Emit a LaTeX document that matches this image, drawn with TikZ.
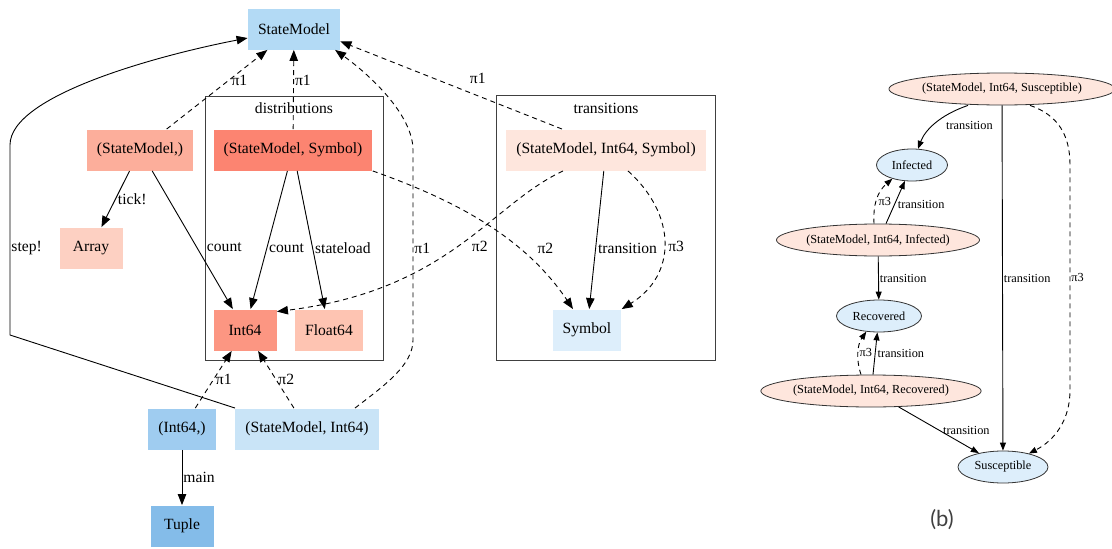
\documentclass[tikz,border=0pt]{standalone}
\usepackage{fontspec}
\setmainfont{Liberation Serif}
\newfontfamily\capfont{Lato}
\usepackage{tikz}
\usetikzlibrary{arrows.meta,shapes.geometric}
\definecolor{cSM}{HTML}{B3DAF5}
\definecolor{cSMc}{HTML}{FCAE9B}
\definecolor{cSMS}{HTML}{FC8471}
\definecolor{cArr}{HTML}{FDD0C2}
\definecolor{cInt}{HTML}{FC9682}
\definecolor{cFlt}{HTML}{FEC4B2}
\definecolor{cIntc}{HTML}{9FCCF0}
\definecolor{cSMI}{HTML}{C9E4F7}
\definecolor{cTup}{HTML}{84BCE9}
\definecolor{cSMIS}{HTML}{FEE6DD}
\definecolor{cSym}{HTML}{DDEEFB}

\begin{document}
\begin{tikzpicture}[x=1pt, y=-1pt, line width=0.9pt,
  main/.style={rectangle, minimum width=63pt, minimum height=41pt, inner xsep=10pt, font=\fontsize{15.6}{18}\selectfont},
  oval/.style={ellipse, draw=black!80, line width=0.8pt, minimum height=32pt, inner sep=0pt, font=\fontsize{12.3}{14}\selectfont},
  lbl/.style={font=\fontsize{15.6}{18}\selectfont, inner sep=2pt},
  slbl/.style={font=\fontsize{12.3}{14}\selectfont, inner sep=1pt},
  cluster/.style={draw=black!75, line width=1pt},
  dsh/.style={dash pattern=on 5pt off 4pt},
  ar/.style={-{Triangle[length=11pt,width=8.5pt]}},
  sar/.style={-{Triangle[length=8pt,width=6pt]}}]
\useasboundingbox (0,0) rectangle (1112,549);

% clusters
\draw[cluster] (205,96) rectangle (383,360);
\draw[cluster] (496,95) rectangle (715,360);
\node[lbl] (dist) at (294,108) {distributions};
\node[lbl] (trans) at (606,108) {transitions};

% (a) type graph
\node[main, fill=cSM] (sm) at (294,29) {StateModel};
\node[main, fill=cSMc] (smc) at (140,150) {(StateModel,)};
\node[main, fill=cSMS] (sms) at (293,150) {(StateModel, Symbol)};
\node[main, fill=cArr] (arr) at (91,248) {Array};
\node[main, fill=cInt] (int) at (245,330) {Int64};
\node[main, fill=cFlt] (flt) at (329,330) {Float64};
\node[main, fill=cIntc] (intc) at (182,429) {(Int64,)};
\node[main, fill=cSMI] (smi) at (307,429) {(StateModel, Int64)};
\node[main, fill=cTup] (tup) at (182,526) {Tuple};
\node[main, fill=cSMIS] (smis) at (606,150) {(StateModel, Int64, Symbol)};
\node[main, fill=cSym] (sym) at (587,330) {Symbol};

\draw[ar, dsh] (smc) -- (sm) node[lbl, pos=.62, right]{π1};
\draw[ar, dsh] (sms) -- (sm) node[lbl, pos=.62, right=-1pt]{π1};
\draw[ar, dsh] ([xshift=-44pt]smis.north) -- (sm.-15) node[lbl, pos=.38, above=10pt]{π1};
\draw[ar, dsh] ([xshift=48pt]smi.north) .. controls (385,385) and (413,365) .. (413,340)
  -- (413,150) node[lbl, pos=.48, right=-1pt]{π1} .. controls (413,115) and (370,75) .. (sm.-27);
\draw[ar] (smi.north west) -- (10,335) -- (10,145) node[lbl, pos=.46, right=-1pt]{step!}
  .. controls (10,95) and (160,55) .. (sm.191);
\draw[ar] (smc) -- (arr) node[lbl, midway, right]{tick!};
\draw[ar] (smc) -- (int) node[lbl, pos=.55, right=8pt]{count};
\draw[ar] (sms) -- (int) node[lbl, pos=.56, right=0pt]{count};
\draw[ar] (sms) -- (flt) node[lbl, pos=.56, right]{stateload};
\draw[ar, dsh] (sms.south east) .. controls (440,195) and (520,230) .. (sym) node[lbl, pos=.7, right=16pt]{π2};
\draw[ar, dsh] ([xshift=-43pt]smis.south) .. controls (490,205) and (450,290) .. (int.30) node[lbl, pos=.5, right=12pt]{π2};
\draw[ar] (smis) -- (sym) node[lbl, pos=.56, right=0pt]{transition};
\draw[ar, dsh] ([xshift=22pt]smis.south) .. controls (677,215) and (677,275) .. (sym.north east) node[lbl, pos=.52, right=2pt]{π3};
\draw[ar, dsh] (intc) -- (int) node[lbl, midway, right=0pt]{π1};
\draw[ar, dsh] (smi) -- (int) node[lbl, midway, right=0pt]{π2};
\draw[ar] (intc) -- (tup) node[lbl, midway, right=-1pt]{main};

% (b) state graph
\node[oval, fill=cSMIS, minimum width=220pt] (es) at (1002,89) {(StateModel, Int64, Susceptible)};
\node[oval, fill=cSym, minimum width=71pt] (inf) at (912,165) {Infected};
\node[oval, fill=cSMIS, minimum width=203pt] (ei) at (878,240) {(StateModel, Int64, Infected)};
\node[oval, fill=cSym, minimum width=85pt] (rec) at (879,316) {Recovered};
\node[oval, fill=cSMIS, minimum width=216pt] (er) at (871,391) {(StateModel, Int64, Recovered)};
\node[oval, fill=cSym, minimum width=90pt] (sus) at (1003,467) {Susceptible};
\node[font=\capfont\fontsize{22}{24}\selectfont, text=black!75] (cap) at (942,520) {(b)};

\draw[sar] ([xshift=-34pt]es.south) .. controls (940,115) and (925,130) .. (inf) node[slbl, pos=.55, right=12pt]{transition};
\draw[sar] (es) -- (sus) node[slbl, pos=.5, right=0pt]{transition};
\draw[sar, dsh] ([xshift=28pt]es.south) .. controls (1058,115) and (1070,135) .. (1070,165)
  -- (1070,390) node[slbl, midway, right=0pt]{π3} .. controls (1070,420) and (1055,440) .. (sus);
\draw[sar] ([xshift=8pt]ei.north) -- (inf) node[slbl, pos=.45, right=2pt]{transition};
\draw[sar, dsh] ([xshift=-4pt]ei.north) .. controls (873,205) and (877,192) .. (inf.215) node[slbl, pos=.45, right=1pt]{π3};
\draw[sar] (ei) -- (rec) node[slbl, midway, right=0pt]{transition};
\draw[sar] ([xshift=2pt]er.north) -- (rec) node[slbl, midway, right=1pt]{transition};
\draw[sar, dsh] ([xshift=-10pt]er.north) .. controls (856,360) and (857,345) .. (rec.231) node[slbl, pos=.5, right=0pt]{π3};
\draw[sar] (er) -- (sus) node[slbl, pos=.72, above, xshift=10pt, yshift=4pt]{transition};
\end{tikzpicture}
\end{document}
